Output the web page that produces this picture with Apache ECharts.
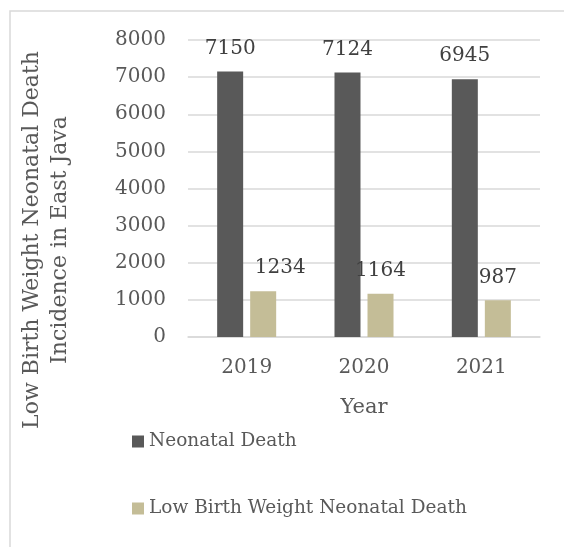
<!DOCTYPE html>
<html>
<head>
<meta charset="utf-8">
<script src="https://cdn.jsdelivr.net/npm/echarts@6/dist/echarts.min.js"></script>
<style>
  html, body { margin: 0; padding: 0; background: #fff; }
  #chart { width: 564px; height: 547px; }
</style>
</head>
<body>
<div id="chart"></div>
<script>
var years = ['2019', '2020', '2021'];
var neonatalDeath = [7150, 7124, 6945];
var lbwNeonatalDeath = [1234, 1164, 987];
var yTicks = [0, 1000, 2000, 3000, 4000, 5000, 6000, 7000, 8000];

var font = 'DejaVu Serif';
var chart = echarts.init(document.getElementById('chart'), null, { renderer: 'canvas' });

// the 2019 label of the second series sits a bit to the right in the original
var lbwData = lbwNeonatalDeath.map(function (v, i) {
  return i === 0 ? { value: v, label: { offset: [17, 0] } } : v;
});

var valueLabel = {
  show: true, position: 'top', distance: 13,
  fontFamily: font, fontSize: 20, color: '#404040'
};

var option = {
  backgroundColor: '#ffffff',
  animation: false,
  grid: { left: 188, right: 24, top: 40, bottom: 210 },
  legend: {
    orient: 'vertical',
    left: 127,
    top: 427,
    itemGap: 48,
    itemWidth: 12,
    itemHeight: 12,
    icon: 'rect',
    textStyle: { fontFamily: font, fontSize: 18.5, color: '#595959' },
    data: ['Neonatal Death', 'Low Birth Weight Neonatal Death']
  },
  xAxis: {
    type: 'category',
    data: years,
    name: 'Year',
    nameLocation: 'middle',
    nameGap: 60,
    nameTextStyle: { fontFamily: font, fontSize: 21, color: '#595959' },
    axisLine: { show: true, lineStyle: { color: '#d9d9d9', width: 1.5 } },
    axisTick: { show: false },
    axisLabel: { fontFamily: font, fontSize: 20, color: '#595959', margin: 21 }
  },
  yAxis: {
    type: 'value',
    min: yTicks[0],
    max: yTicks[yTicks.length - 1],
    interval: 1000,
    axisLine: { show: false },
    axisTick: { show: false },
    axisLabel: {
      fontFamily: font, fontSize: 20, color: '#595959', margin: 22,
      formatter: function (v) { return String(v); }
    },
    splitLine: { lineStyle: { color: '#d9d9d9', width: 1.5 } }
  },
  series: [{
    name: 'Neonatal Death',
    type: 'bar',
    data: neonatalDeath,
    barWidth: 26,
    barGap: '27%',
    itemStyle: { color: '#595959' },
    label: valueLabel
  }, {
    name: 'Low Birth Weight Neonatal Death',
    type: 'bar',
    data: lbwData,
    barWidth: 26,
    itemStyle: { color: '#c4bd97' },
    label: valueLabel
  }],
  graphic: [{
    type: 'rect',
    shape: { x: 10, y: 11, width: 600, height: 600 },
    style: { fill: 'none', stroke: '#d9d9d9', lineWidth: 1.5 },
    silent: true
  }, {
    type: 'text',
    x: 46, y: 240,
    rotation: Math.PI / 2,
    style: {
      text: 'Low Birth Weight Neonatal Death\nIncidence in East Java',
      fontFamily: font, fontSize: 22, lineHeight: 28,
      fill: '#595959', align: 'center', verticalAlign: 'middle'
    }
  }]
};

chart.setOption(option);
</script>
</body>
</html>
